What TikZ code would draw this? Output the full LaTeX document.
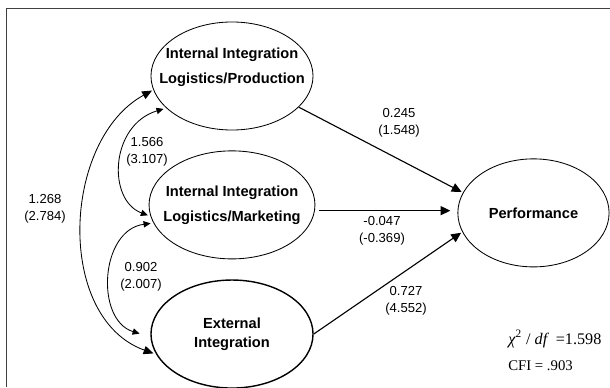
\documentclass[tikz,border=0pt]{standalone}
\usepackage{fontspec}
\setmainfont{Liberation Sans}
\newfontfamily\timesfont{Liberation Serif}
\usetikzlibrary{positioning,arrows.meta,shapes.geometric}
\tikzset{
lat/.style={ellipse,draw,line width=0.6pt,inner xsep=-0.25cm,inner ysep=0pt,
  minimum width=4.05cm,minimum height=2.7cm,align=center,
  font=\fontsize{10.4}{17.8}\selectfont\bfseries},
el/.style={font=\fontsize{9.3}{12}\selectfont,align=center,inner sep=0pt},
reg/.style={line width=0.8pt,-{Triangle[length=7pt,width=6.5pt]},shorten >=1pt},
cov/.style={line width=0.6pt,{Triangle[length=5pt,width=4.5pt]}-{Triangle[length=5pt,width=4.5pt]}},
covbig/.style={line width=0.6pt,{Triangle[length=7pt,width=6pt]}-{Triangle[length=7pt,width=6pt]}},
}
\begin{document}
\begin{tikzpicture}[x=0.025cm,y=-0.025cm]
\useasboundingbox (0,0) rectangle (610,387);
% frame: only its top and left edges lie on the page
\draw[line width=1pt,black!75] (6.5,387) -- (6.5,8.5) -- (610,8.5);

% latent variables
\node[lat,label={[align=center,font=\fontsize{10.4}{17.8}\selectfont\bfseries,yshift=0.21cm]center:{Internal Integration\\Logistics/Production}}] (ip) at (232,76) {};
\node[lat,below=0.5cm of ip] (im) {Internal Integration\\Logistics/Marketing};
\node[lat,below=0.5cm of im,line width=1pt,font=\fontsize{10.4}{13.5}\selectfont\bfseries] (ie) {External\\Integration};
\node[lat,minimum width=3.78cm,right=3.55cm of im,yshift=-0.2cm] (perf) {Performance};

% paths to performance
\draw[reg] (ip.-25) -- (perf.164);
\draw[reg,shorten <=3pt,shorten >=5pt] (im.-4) -- (im.-4 -| perf.west);
\draw[reg] (ie.east) -- (perf.195);
\node[el] (l1) at (399,123) {0.245\\(1.548)};
\node[el] (l2) at (382,231) {-0.047\\(-0.369)};
\node[el] (l3) at (406,301) {0.727\\(4.552)};

% covariances
\draw[covbig,shorten <=1pt,shorten >=2pt] (ip.190) .. controls (62,140) and (55,318) .. (ie.195);
\draw[cov,shorten <=2pt,shorten >=2pt] (ip.206) .. controls (110,125) and (107,200) .. (im.188);
\draw[cov,shorten <=2pt,shorten >=8pt] (im.193) .. controls (100,230) and (95,320) .. (ie.182);
\node[el] (c1) at (45,209) {1.268\\(2.784)};
\node[el] (c2) at (147,152) {1.566\\(3.107)};
\node[el] (c3) at (141,277) {0.902\\(2.007)};

% fit indices
\node[anchor=west,inner sep=0pt,font=\timesfont\fontsize{11.5}{13}\selectfont] (chi) at (508,339) {\textit{χ}\textsuperscript{2} / \textit{df}\, =1.598};
\node[anchor=west,inner sep=0pt,font=\timesfont\fontsize{10.5}{12}\selectfont] (cfi) at (508,366) {CFI = .903};
\end{tikzpicture}
\end{document}
